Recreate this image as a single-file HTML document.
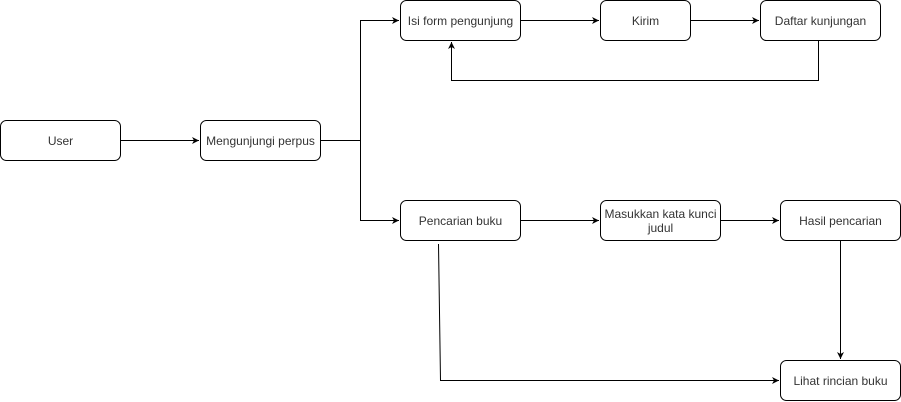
<!DOCTYPE html>
<html><head><meta charset="utf-8"><style>
html,body{margin:0;padding:0;background:#fff;}
svg{display:block;}
text{font-family:"Liberation Sans",Arial,sans-serif;font-size:12px;fill:#333;}
</style></head><body>
<svg width="901" height="402" viewBox="0 0 901 402" xmlns="http://www.w3.org/2000/svg">
<defs>
<marker id="a" markerWidth="8" markerHeight="8" refX="7" refY="4" orient="auto" markerUnits="userSpaceOnUse">
<path d="M0,0.5 L7,4 L0,7.5 L2,4 Z" fill="#000"/>
</marker>
</defs>
<g fill="none" stroke="#000" stroke-width="1">
<path d="M120.5,140.5 H199" marker-end="url(#a)"/>
<path d="M320.5,140.5 H360.5 V20.5 H399" marker-end="url(#a)"/>
<path d="M360.5,140.5 V220.5 H399" marker-end="url(#a)"/>
<path d="M520.5,20.5 H599" marker-end="url(#a)"/>
<path d="M690.5,20.5 H759" marker-end="url(#a)"/>
<path d="M818.5,40.5 V80.5 H451.5 V42" marker-end="url(#a)"/>
<path d="M520.5,220.5 H599" marker-end="url(#a)"/>
<path d="M720.5,220.5 H779" marker-end="url(#a)"/>
<path d="M840.5,240.5 V359" marker-end="url(#a)"/>
<path d="M438.5,244 L440.5,380.5 H779" marker-end="url(#a)"/>
</g>
<g fill="#fff" stroke="#000" stroke-width="1">
<rect x="0.5" y="120.5" width="120" height="40" rx="6"/>
<rect x="200.5" y="120.5" width="120" height="40" rx="6"/>
<rect x="400.5" y="0.5" width="120" height="40" rx="6"/>
<rect x="600.5" y="0.5" width="90" height="40" rx="6"/>
<rect x="760.5" y="0.5" width="120" height="40" rx="6"/>
<rect x="400.5" y="200.5" width="120" height="40" rx="6"/>
<rect x="600.5" y="200.5" width="120" height="40" rx="6"/>
<rect x="780.5" y="200.5" width="120" height="40" rx="6"/>
<rect x="780.5" y="360.5" width="120" height="40" rx="6"/>
</g>
<g text-anchor="middle">
<text x="60.5" y="145">User</text>
<text x="260.5" y="145">Mengunjungi perpus</text>
<text x="460.5" y="25">Isi form pengunjung</text>
<text x="645.5" y="25">Kirim</text>
<text x="820.5" y="25">Daftar kunjungan</text>
<text x="460.5" y="225">Pencarian buku</text>
<text x="660.5" y="218">Masukkan kata kunci</text>
<text x="660.5" y="232">judul</text>
<text x="840.5" y="225">Hasil pencarian</text>
<text x="840.5" y="385">Lihat rincian buku</text>
</g>
</svg>
</body></html>
